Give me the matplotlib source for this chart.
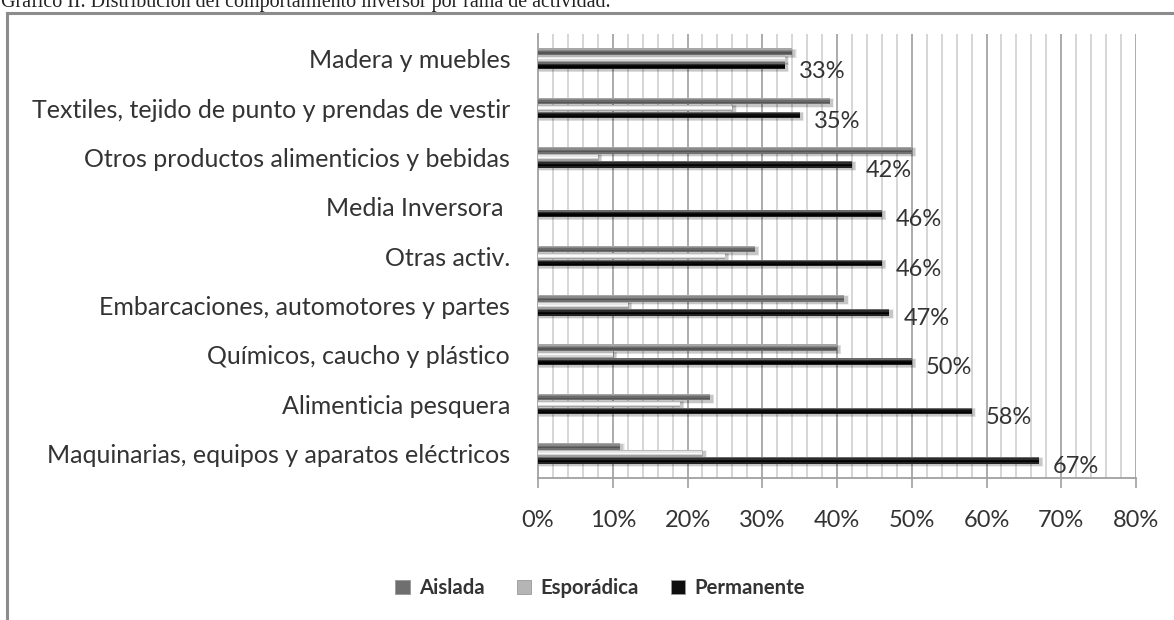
import matplotlib
matplotlib.use("Agg")
import matplotlib.pyplot as plt
from matplotlib.patches import Patch
from matplotlib.lines import Line2D
import numpy as np

categories = [
    "Madera y muebles",
    "Textiles, tejido de punto y prendas de vestir",
    "Otros productos alimenticios y bebidas",
    "Media Inversora ",
    "Otras activ.",
    "Embarcaciones, automotores y partes",
    "Químicos, caucho y plástico",
    "Alimenticia pesquera",
    "Maquinarias, equipos y aparatos eléctricos",
]
aislada = [34, 39, 50, 0, 29, 41, 40, 23, 11]
esporadica = [33, 26, 8, 0, 25, 12, 10, 19, 22]
permanente = [33, 35, 42, 46, 46, 47, 50, 58, 67]
x_ticks = [0, 10, 20, 30, 40, 50, 60, 70, 80]
series_names = ["Aislada", "Esporádica", "Permanente"]

W, H = 1174, 620
fig = plt.figure(figsize=(W / 100, H / 100), dpi=100)
fig.patch.set_facecolor("white")

label_font = "Lato"
text_color = "#333333"

# outer frame of the chart area
fig.add_artist(Line2D([7 / W, 7 / W], [0, 1 - 13 / H], transform=fig.transFigure,
                      color="#8c8c8c", lw=2.2))
fig.add_artist(Line2D([7 / W, 1], [1 - 13 / H, 1 - 13 / H], transform=fig.transFigure,
                      color="#8c8c8c", lw=2.2))

fig.text(1 / W, 1 - 6.5 / H,
         "Gráfico II. Distribución del comportamiento inversor por rama de actividad.",
         family="Liberation Serif", fontsize=14.4, va="baseline", ha="left", color="#222222")

ax = fig.add_axes([538 / W, 1 - 478 / H, (1136 - 538) / W, (478 - 34) / H])
n = len(categories)
y = np.arange(n)

# gridlines: minor every 2 %, major every 10 %
for v in np.arange(2, 81, 2):
    major = v % 10 == 0
    ax.axvline(v, color="#ababab" if major else "#cccccc", lw=1.4 if major else 1.1, zorder=0)

# vertical shading profiles (top to bottom) for each series
profiles = [
    ["#a6a6a6", "#8a8a8a", "#6a6a6a", "#555555", "#707070"],
    ["#b8b8b8", "#e6e6e6", "#fafafa", "#d6d6d6", "#a0a0a0"],
    ["#6a6a6a", "#2c2c2c", "#0c0c0c", "#000000", "#222222"],
]
offsets = [-0.14, 0.0, 0.14]
bar_h = 0.135
series = [aislada, esporadica, permanente]

for vals, prof, off in zip(series, profiles, offsets):
    vals = np.asarray(vals, dtype=float)
    has = vals > 0
    centers = y + off
    # soft drop shadow
    for k, a in enumerate([0.06, 0.08, 0.10]):
        grow = 0.03 - k * 0.01
        ax.barh(centers[has] + 0.035, vals[has] + 0.35 + grow * 8, height=bar_h + grow * 2,
                left=0, color="black", alpha=a, lw=0, zorder=1)
    m = len(prof)
    strip = bar_h / m
    for j, c in enumerate(prof):
        yc = centers - bar_h / 2 + strip * (j + 0.5)
        ax.barh(yc, vals, height=strip * 1.02, color=c, lw=0, zorder=3)

# value labels for the Permanente series
for yi, v in zip(y, permanente):
    ax.text(v + 1.9, yi + 0.27, f"{v}%", fontsize=17, family=label_font,
            color=text_color, va="center", ha="left", zorder=4)

ax.set_xlim(0, 80)
ax.set_ylim(n - 0.5, -0.5)
ax.set_xticks(x_ticks)
ax.set_xticklabels([f"{t}%" for t in x_ticks], fontsize=17, family=label_font, color=text_color)
ax.set_yticks(y)
ax.set_yticklabels(categories, fontsize=18, family=label_font, color=text_color)
ax.tick_params(axis="x", length=7, width=1.2, color="#a0a0a0", pad=16)
ax.tick_params(axis="y", length=0, pad=20)
for s in ["top", "right"]:
    ax.spines[s].set_visible(False)
for s in ["left", "bottom"]:
    ax.spines[s].set_color("#a0a0a0")
    ax.spines[s].set_linewidth(1.3)
ax.set_facecolor("none")

handles = [Patch(facecolor=c, edgecolor="#999999", lw=0.6) for c in ["#6f6f6f", "#b5b5b5", "#0e0e0e"]]
fig.legend(handles, series_names, loc="center", bbox_to_anchor=(600 / W, 1 - 588 / H),
           ncol=3, frameon=False, handlelength=0.7, handleheight=0.7, handletextpad=0.45,
           columnspacing=1.6, prop={"family": label_font, "size": 14.6, "weight": "bold"},
           labelcolor="#333333")

fig.savefig("out.png", dpi=100, facecolor="white")
